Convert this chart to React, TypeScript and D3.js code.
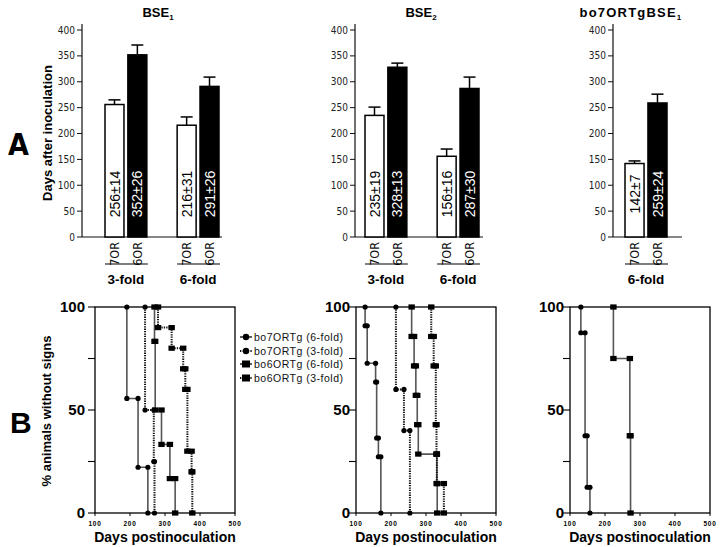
import React from "react";
import * as d3 from "d3";

// ---------- DATA ----------
const FOLDS_BSE = ["3-fold", "6-fold"];
const FOLDS_TG = ["6-fold"];
const ALLELES = ["7OR", "6OR"];
const Y_TICKS_A = [0, 50, 100, 150, 200, 250, 300, 350, 400];

const bse1Mean = [256, 352, 216, 291];
const bse1Err = [9, 19, 16, 18];
const bse1Text = ["256±14", "352±26", "216±31", "291±26"];

const bse2Mean = [235, 328, 156, 287];
const bse2Err = [16, 8, 14, 22];
const bse2Text = ["235±19", "328±13", "156±16", "287±30"];

const tgMean = [142, 259];
const tgErr = [5, 17];
const tgText = ["142±7", "259±24"];

const SERIES_NAMES = ["bo7ORTg (6-fold)", "bo7ORTg (3-fold)", "bo6ORTg (6-fold)", "bo6ORTg (3-fold)"];
const X_TICKS_B = [100, 200, 300, 400, 500];
const Y_TICKS_B = [0, 25, 50, 75, 100];
const Y_LABELS_B = [0, 50, 100];

// panel B1 (BSE1)
const b1_7_6_days = [191, 223, 251];
const b1_7_6_surv = [55.6, 22.2, 0];
const b1_7_3_days = [243, 268, 270];
const b1_7_3_surv = [50, 25, 0];
const b1_6_6_days = [270, 272, 290, 314, 329];
const b1_6_6_surv = [83.3, 50, 33.3, 16.7, 0];
const b1_6_3_days = [280, 319, 352, 358, 364, 376, 378];
const b1_6_3_surv = [90, 80, 70, 60, 30, 20, 0];

// panel B2 (BSE2)
const b2_7_6_days = [126, 132, 156, 159, 164, 171];
const b2_7_6_surv = [90.9, 72.7, 63.6, 36.4, 27.3, 0];
const b2_7_3_days = [214, 237, 254];
const b2_7_3_surv = [60, 40, 0];
const b2_6_6_days = [259, 266, 271, 275, 278, 331, 332];
const b2_6_6_surv = [85.7, 71.4, 57.1, 42.9, 28.6, 14.3, 0];
const b2_6_3_days = [315, 322, 328, 330, 331, 351];
const b2_6_3_surv = [85.7, 71.4, 42.9, 28.6, 14.3, 0];

// panel B3 (bo7ORTgBSE1)
const b3_7_6_days = [131, 143, 149, 157];
const b3_7_6_surv = [87.5, 37.5, 12.5, 0];
const b3_6_6_days = [224, 271, 273];
const b3_6_6_surv = [75, 37.5, 0];

// ---------- STYLE ----------
const SANS = "'Liberation Sans', Arial, Helvetica, sans-serif";
const NARROW = "'Liberation Sans Narrow', 'Arial Narrow', 'DejaVu Sans Condensed', 'Liberation Sans', sans-serif";

const yA = d3.scaleLinear().domain([0, 400]).range([237, 30]);

type BarPanelProps = {
  axisX: number;
  axisEnd: number;
  groupRange: [number, number];
  groupPad: number;
  folds: string[];
  means: number[];
  errs: number[];
  texts: string[];
  title: string;
  sub: string;
  titleX: number;
  titleSpacing?: number;
};

function BarPanel(p: BarPanelProps) {
  const gx = d3.scaleBand<string>().domain(p.folds).range(p.groupRange).paddingInner(p.groupPad).paddingOuter(0);
  const bx = d3.scaleBand<string>().domain(ALLELES).range([0, gx.bandwidth()]).paddingInner(0.17).paddingOuter(0);
  const y0 = yA(0);
  return (
    <g>
      <text x={p.titleX} y={17} textAnchor="middle" fontFamily={SANS} fontWeight="bold" fontSize={13}
        letterSpacing={p.titleSpacing ?? 0}>
        {p.title}
        <tspan fontSize={8} dy={3}>{p.sub}</tspan>
      </text>
      {/* y axis */}
      <line x1={p.axisX} x2={p.axisX} y1={y0} y2={24} stroke="#111" strokeWidth={1.2} />
      <line x1={p.axisX} x2={p.axisEnd} y1={y0} y2={y0} stroke="#111" strokeWidth={1.2} />
      {Y_TICKS_A.map((t) => (
        <g key={t}>
          <line x1={p.axisX - 5} x2={p.axisX} y1={yA(t)} y2={yA(t)} stroke="#111" strokeWidth={1} />
          <text x={p.axisX - 7} y={yA(t)} dy="0.35em" textAnchor="end" fontFamily={NARROW} fontSize={10} fill="#222">
            {t}
          </text>
        </g>
      ))}
      {p.folds.map((f, gi) => {
        const g0 = gx(f)!;
        return (
          <g key={f}>
            {ALLELES.map((a, ai) => {
              const i = gi * 2 + ai;
              const x = g0 + bx(a)!;
              const w = bx.bandwidth();
              const cx = x + w / 2;
              const top = yA(p.means[i]);
              const etop = yA(p.means[i] + p.errs[i]);
              const dark = ai === 1;
              return (
                <g key={a}>
                  <line x1={cx} x2={cx} y1={top} y2={etop} stroke="#000" strokeWidth={1.5} />
                  <line x1={cx - 6} x2={cx + 6} y1={etop} y2={etop} stroke="#000" strokeWidth={1.5} />
                  <rect x={x} y={top} width={w} height={y0 - top} fill={dark ? "#000" : "#fff"} stroke="#000" strokeWidth={1.5} />
                  <text transform={`translate(${cx},${y0 - 43}) rotate(-90)`} dy="0.36em" textAnchor="middle"
                    fontFamily={SANS} fontSize={14} fill={dark ? "#fff" : "#000"}>
                    {p.texts[i]}
                  </text>
                  <text transform={`translate(${cx},${242}) rotate(-90)`} dy="0.36em" textAnchor="end"
                    fontFamily={NARROW} fontSize={12.5} fill="#111">
                    {a}
                  </text>
                </g>
              );
            })}
            <line x1={g0} x2={g0 + gx.bandwidth() + 1} y1={264} y2={264} stroke="#000" strokeWidth={1.2} />
            <text x={g0 + gx.bandwidth() / 2} y={284} textAnchor="middle" fontFamily={SANS} fontWeight="bold" fontSize={13.5}>
              {f}
            </text>
          </g>
        );
      })}
    </g>
  );
}

type Curve = { days: number[]; surv: number[]; marker: "circle" | "square"; dotted: boolean };

function stepVertices(c: Curve): [number, number][] {
  const pts: [number, number][] = [];
  let prev = 100;
  c.days.forEach((d, i) => {
    pts.push([d, prev]);
    pts.push([d, c.surv[i]]);
    prev = c.surv[i];
  });
  return pts;
}

function Marker({ x, y, kind }: { x: number; y: number; kind: "circle" | "square" }) {
  if (kind === "circle") return <circle cx={x} cy={y} r={2.6} fill="#000" />;
  return <rect x={x - 3.2} y={y - 2.6} width={6.4} height={5.2} fill="#000" />;
}

type KMProps = { left: number; curves: Curve[]; labelGap: number };

function KMPanel({ left, curves, labelGap }: KMProps) {
  const x = d3.scaleLinear().domain([100, 500]).range([left, left + 140]);
  const y = d3.scaleLinear().domain([0, 100]).range([513, 307]);
  const line = d3.line<[number, number]>().x((d) => x(d[0])).y((d) => y(d[1]));
  return (
    <g>
      <rect x={left} y={y(100)} width={140} height={y(0) - y(100)} fill="none" stroke="#000" strokeWidth={1.3} />
      {Y_TICKS_B.map((t) => (
        <line key={t} x1={left - 7} x2={left} y1={y(t)} y2={y(t)} stroke="#000" strokeWidth={1.1} />
      ))}
      {Y_LABELS_B.map((t) => (
        <text key={t} x={left - labelGap} y={y(t)} dy="0.36em" textAnchor="end" fontFamily={SANS} fontWeight="bold" fontSize={15}>
          {t}
        </text>
      ))}
      {X_TICKS_B.map((t) => (
        <g key={t}>
          <line x1={x(t)} x2={x(t)} y1={y(0)} y2={y(0) + 3} stroke="#000" strokeWidth={1} />
          <text x={x(t)} y={526} textAnchor="middle" fontFamily={SANS} fontWeight="bold" fontSize={6.5} letterSpacing={0.8}>
            {t}
          </text>
        </g>
      ))}
      <text x={left + 70} y={542} textAnchor="middle" fontFamily={SANS} fontWeight="bold" fontSize={14}>
        Days postinoculation
      </text>
      {curves.map((c, i) => {
        const v = stepVertices(c);
        return (
          <g key={i}>
            <path d={line(v)!} fill="none" stroke={c.dotted ? "#111" : "#555"} strokeWidth={c.dotted ? 2 : 1.6}
              strokeDasharray={c.dotted ? "1.3 1.1" : undefined} />
            {v.map((pt, j) => (
              <Marker key={j} x={x(pt[0])} y={y(pt[1])} kind={c.marker} />
            ))}
          </g>
        );
      })}
    </g>
  );
}

const LEGEND_Y = [337, 351, 364, 378];

export default function App() {
  const b1: Curve[] = [
    { days: b1_7_6_days, surv: b1_7_6_surv, marker: "circle", dotted: false },
    { days: b1_7_3_days, surv: b1_7_3_surv, marker: "circle", dotted: true },
    { days: b1_6_6_days, surv: b1_6_6_surv, marker: "square", dotted: false },
    { days: b1_6_3_days, surv: b1_6_3_surv, marker: "square", dotted: true },
  ];
  const b2: Curve[] = [
    { days: b2_7_6_days, surv: b2_7_6_surv, marker: "circle", dotted: false },
    { days: b2_7_3_days, surv: b2_7_3_surv, marker: "circle", dotted: true },
    { days: b2_6_6_days, surv: b2_6_6_surv, marker: "square", dotted: false },
    { days: b2_6_3_days, surv: b2_6_3_surv, marker: "square", dotted: true },
  ];
  const b3: Curve[] = [
    { days: b3_7_6_days, surv: b3_7_6_surv, marker: "circle", dotted: false },
    { days: b3_6_6_days, surv: b3_6_6_surv, marker: "square", dotted: false },
  ];
  const legendKinds: { marker: "circle" | "square"; dotted: boolean }[] = [
    { marker: "circle", dotted: false },
    { marker: "circle", dotted: true },
    { marker: "square", dotted: false },
    { marker: "square", dotted: true },
  ];
  return (
    <svg width={720} height={547} style={{ position: "absolute", left: 0, top: 0, background: "#fff" }}>
      <rect x={0} y={0} width={720} height={547} fill="#fff" />
      {/* Panel letters */}
      <text x={8} y={155} fontFamily={NARROW} fontWeight="bold" fontSize={30}>A</text>
      <text x={10} y={433} fontFamily={SANS} fontWeight="bold" fontSize={30}>B</text>
      {/* Y titles */}
      <text transform="translate(47,133) rotate(-90)" dy="0.36em" textAnchor="middle" fontFamily={SANS} fontWeight="bold" fontSize={13}>
        Days after inoculation
      </text>
      <text transform="translate(46,411) rotate(-90)" dy="0.36em" textAnchor="middle" fontFamily={SANS} fontWeight="bold" fontSize={13}>
        % animals without signs
      </text>

      <BarPanel axisX={82} axisEnd={222} groupRange={[105, 219]} groupPad={0.42} folds={FOLDS_BSE} means={bse1Mean} errs={bse1Err}
        texts={bse1Text} title="BSE" sub="1" titleX={158} />
      <BarPanel axisX={355} axisEnd={483} groupRange={[365, 479]} groupPad={0.42} folds={FOLDS_BSE} means={bse2Mean} errs={bse2Err}
        texts={bse2Text} title="BSE" sub="2" titleX={421} />
      <BarPanel axisX={613} axisEnd={682} groupRange={[625, 667]} groupPad={0} folds={FOLDS_TG} means={tgMean} errs={tgErr}
        texts={tgText} title="bo7ORTgBSE" sub="1" titleX={631} titleSpacing={1.2} />

      <KMPanel left={95} curves={b1} labelGap={10} />
      <KMPanel left={356} curves={b2} labelGap={6} />
      <KMPanel left={570} curves={b3} labelGap={6} />

      {/* Legend */}
      {SERIES_NAMES.map((name, i) => {
        const k = legendKinds[i];
        const yy = LEGEND_Y[i];
        return (
          <g key={name}>
            <line x1={240} x2={252} y1={yy} y2={yy} stroke={k.dotted ? "#111" : "#333"} strokeWidth={k.dotted ? 2 : 1.6}
              strokeDasharray={k.dotted ? "1.3 1.3" : undefined} />
            {k.marker === "circle" ? (
              <circle cx={246} cy={yy} r={3.2} fill="#000" />
            ) : (
              <rect x={242} y={yy - 3.5} width={8} height={7} fill="#000" />
            )}
            <text x={254} y={yy} dy="0.36em" fontFamily={SANS} fontSize={10.5} letterSpacing={0.5} fill="#111">
              {name}
            </text>
          </g>
        );
      })}
    </svg>
  );
}
